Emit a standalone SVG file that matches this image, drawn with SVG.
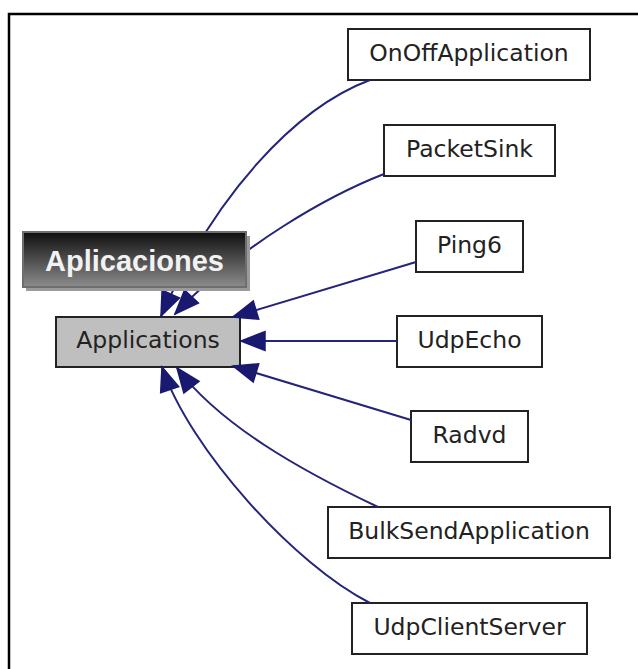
<svg xmlns="http://www.w3.org/2000/svg" width="638" height="669" viewBox="0 0 638 669">
<defs>
<style>
.box{fill:#ffffff;stroke:#222222;stroke-width:2}
.lbl{font-family:"DejaVu Sans",sans-serif;font-size:23.5px;fill:#222222;text-anchor:middle}
.edge{fill:none;stroke:#24247a;stroke-width:2}
</style>
<linearGradient id="g" x1="0" y1="0" x2="0" y2="1">
<stop offset="0" stop-color="#0e0e0e"/>
<stop offset="1" stop-color="#8c8c8c"/>
</linearGradient>
<marker id="ah" markerUnits="userSpaceOnUse" viewBox="-27 -12 30 24" markerWidth="30" markerHeight="24" refX="0" refY="0" orient="auto">
<path d="M0,0 L-24,-9.5 L-24,9.5 Z" fill="#191970" stroke="#191970" stroke-width="1.5" stroke-linejoin="miter"/>
</marker>
</defs>
<rect width="638" height="669" fill="#ffffff"/>
<path d="M9,669 V14 H638" fill="none" stroke="#000000" stroke-width="2.5"/>
<g id="node-applications">
<rect x="56" y="317" width="184" height="50" fill="#bfbfbf" stroke="#222222" stroke-width="2"/>
<text class="lbl" x="148" y="348">Applications</text>
</g>
<g id="node-onoffapplication">
<rect class="box" x="348" y="29" width="242" height="51"/>
<text class="lbl" x="469" y="61">OnOffApplication</text>
</g>
<g id="node-packetsink">
<rect class="box" x="384" y="125" width="171" height="51"/>
<text class="lbl" x="469.5" y="157">PacketSink</text>
</g>
<g id="node-ping6">
<rect class="box" x="416" y="221" width="107" height="51"/>
<text class="lbl" x="469.5" y="253">Ping6</text>
</g>
<g id="node-udpecho">
<rect class="box" x="397" y="316" width="145" height="51"/>
<text class="lbl" x="469.5" y="348">UdpEcho</text>
</g>
<g id="node-radvd">
<rect class="box" x="411" y="411" width="117" height="51"/>
<text class="lbl" x="469.5" y="443">Radvd</text>
</g>
<g id="node-bulksendapplication">
<rect class="box" x="328" y="507" width="282" height="51"/>
<text class="lbl" x="469" y="539">BulkSendApplication</text>
</g>
<g id="node-udpclientserver">
<rect class="box" x="352" y="603" width="235" height="51"/>
<text class="lbl" x="469.5" y="635">UdpClientServer</text>
</g>
<g id="connectors">
<path class="edge" marker-end="url(#ah)" d="M370,80 C295,108 215,195 161,316"/>
<path class="edge" marker-end="url(#ah)" d="M384,174 C330,195 240,245 175,314"/>
<path class="edge" marker-end="url(#ah)" d="M416,262 L233,317"/>
<path class="edge" marker-end="url(#ah)" d="M397,341 L241,341"/>
<path class="edge" marker-end="url(#ah)" d="M411,420 L233,366"/>
<path class="edge" marker-end="url(#ah)" d="M378,507 C300,470 220,425 177,368"/>
<path class="edge" marker-end="url(#ah)" d="M370,603 C295,565 190,450 162,367"/>
</g>
<g id="node-aplicaciones">
<rect x="26" y="236" width="224" height="55" fill="#9a9a9a"/>
<rect x="23" y="232" width="223" height="55" fill="url(#g)" stroke="#6e6e6e" stroke-width="2"/>
<text x="134.5" y="271" font-family="'Liberation Sans',Arial,sans-serif" font-size="29" font-weight="bold" fill="#f2f2f2" text-anchor="middle">Aplicaciones</text>
</g>
</svg>
